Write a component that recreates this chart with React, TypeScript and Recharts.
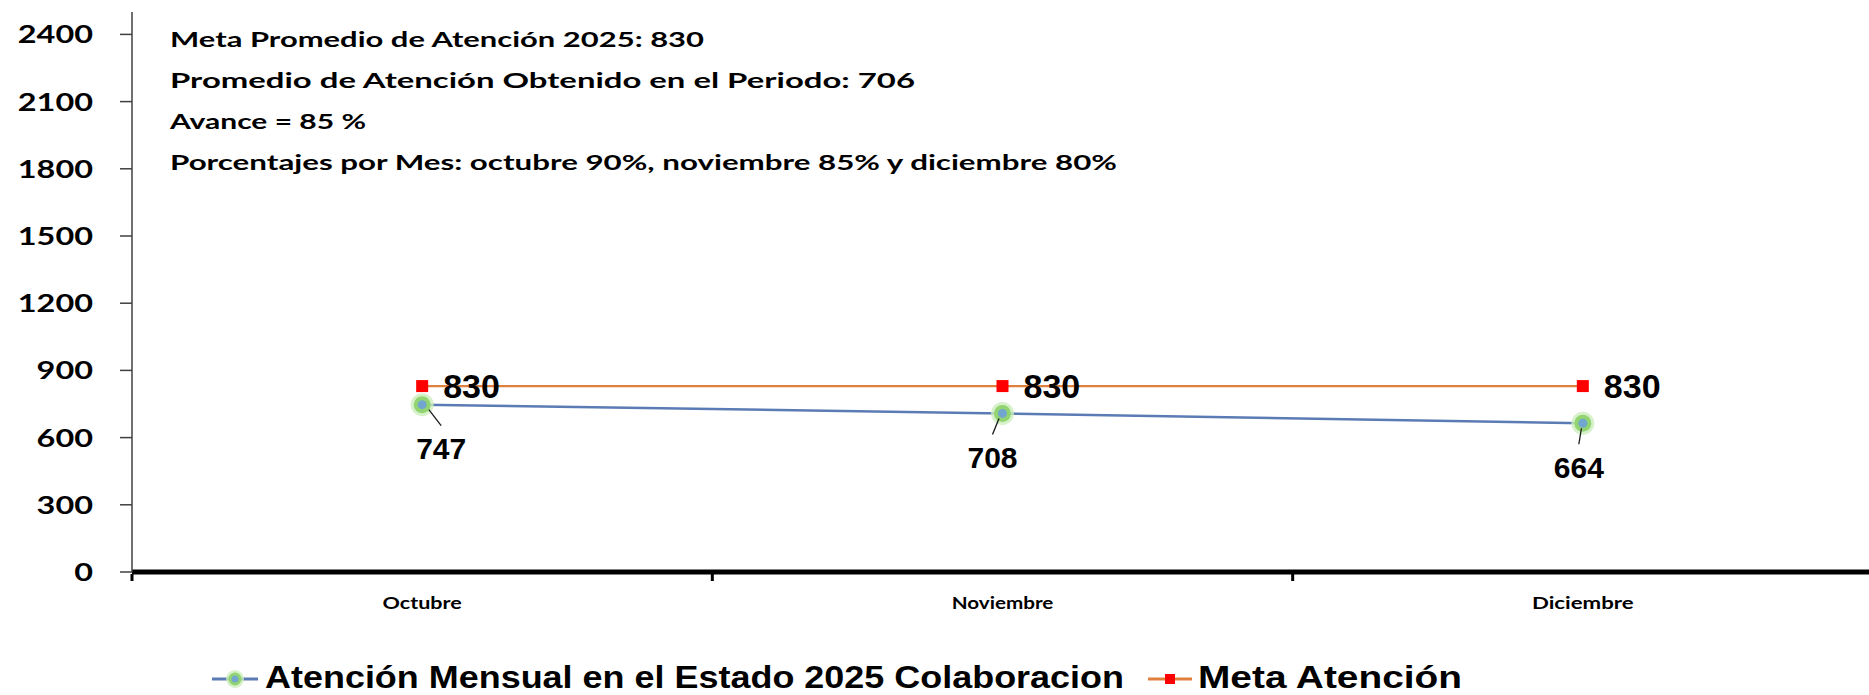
import React from 'react';
import { LineChart, Line, XAxis, YAxis, LabelList, Legend } from 'recharts';

// ---- data ----
const MESES = ['Octubre', 'Noviembre', 'Diciembre'];
const ATENCION = [747, 708, 664];
const META = [830, 830, 830];
const Y_TICKS = [0, 300, 600, 900, 1200, 1500, 1800, 2100, 2400];
const SERIE_ATENCION = 'Atención Mensual en el Estado 2025 Colaboracion';
const SERIE_META = 'Meta Atención';
const NOTAS = [
  'Meta Promedio de Atención 2025: 830',
  'Promedio de Atención Obtenido en el Periodo: 706',
  'Avance = 85 %',
  'Porcentajes por Mes: octubre 90%, noviembre 85% y diciembre 80%',
];

const data = MESES.map((mes, i) => ({ mes, atencion: ATENCION[i], meta: META[i] }));

// ---- styles ----
const BLUE = '#5B7BB5';
const ORANGE = '#E0803F';
const CAL = 'Lato, "Open Sans", sans-serif';
const ARI = '"Liberation Sans", Arial, sans-serif';
const NOTE_W = [534, 745, 196, 947];
const NOTE_BASE = [47, 88, 129, 170];
const ATN_DX = [19, -10, -4];

const YTick = (props: any) => {
  const { x, y, payload } = props;
  const s = String(payload.value);
  return (
    <text x={x} y={y} dy="0.36em" textAnchor="end" fontFamily={CAL} fontWeight={700} fontSize={25}
      fill="#000" textLength={s.length * 18.8} lengthAdjust="spacingAndGlyphs">{s}</text>
  );
};

const XTick = (props: any) => {
  const { x, y, payload } = props;
  const half = payload && typeof payload.offset === 'number' && payload.offset > 0 ? payload.offset : 290;
  const s = String(payload.value);
  return (
    <g>
      <line x1={x - half} x2={x - half} y1={y + 2} y2={y + 9} stroke="#000" strokeWidth={3} />
      <text x={x} y={y + 37} textAnchor="middle" fontFamily={CAL} fontWeight={700} fontSize={17}
        fill="#000" textLength={s.length * 11.3} lengthAdjust="spacingAndGlyphs">{s}</text>
    </g>
  );
};

const AtencionDot = (p: any) => {
  const { cx, cy, index } = p;
  return (
    <g key={`ad-${index}`}>
      <circle cx={cx} cy={cy} r={11.5} fill="#cdeebd" opacity={0.8} />
      <circle cx={cx} cy={cy} r={8.5} fill="#92d470" />
      <circle cx={cx} cy={cy} r={4.5} fill="#73a6cf" />
    </g>
  );
};

const MetaDot = (p: any) => {
  const { cx, cy, index } = p;
  return <rect key={`md-${index}`} x={cx - 6} y={cy - 6} width={12} height={12} fill="#FF0000" />;
};

const AtencionLabel = (props: any) => {
  const { x, y, value, index } = props;
  const dx = ATN_DX[index] ?? 0;
  const cx = x + dx;
  const cy = y + 44;
  return (
    <g>
      <line x1={x + dx * 0.35} y1={y + 5} x2={cx} y2={y + 21} stroke="#1a1a1a" strokeWidth={1.3} />
      <text x={cx} y={cy} dy="0.36em" textAnchor="middle" fontFamily={ARI} fontWeight={700}
        fontSize={30} fill="#000">{value}</text>
    </g>
  );
};

const MetaLabel = (props: any) => {
  const { x, y, value } = props;
  return (
    <text x={x + 21} y={y} dy="0.36em" textAnchor="start" fontFamily={ARI} fontWeight={700}
      fontSize={34} fill="#000">{value}</text>
  );
};

const LEG_POS = [
  { i0: 212, i1: 258, tx: 265, w: 859 },
  { i0: 1148, i1: 1192, tx: 1198, w: 264 },
];

const LegendContent = (props: any) => {
  const items = props.payload || [];
  return (
    <svg width={1869} height={45} style={{ display: 'block' }}>
      {items.map((it: any, i: number) => {
        const p = LEG_POS[i] || LEG_POS[0];
        const mid = (p.i0 + p.i1) / 2;
        const name = String(it.value);
        return (
          <g key={name}>
            <line x1={p.i0} x2={p.i1} y1={24} y2={24} stroke={it.color} strokeWidth={3} />
            {i === 0 ? (
              <g>
                <circle cx={mid} cy={24} r={9} fill="#cdeebd" opacity={0.8} />
                <circle cx={mid} cy={24} r={6.5} fill="#92d470" />
                <circle cx={mid} cy={24} r={3.5} fill="#73a6cf" />
              </g>
            ) : (
              <rect x={mid - 5} y={19} width={10} height={10} fill="#FF0000" />
            )}
            <text x={p.tx} y={33} fontFamily={ARI} fontWeight={700} fontSize={32} fill="#000"
              textLength={p.w} lengthAdjust="spacingAndGlyphs">{name}</text>
          </g>
        );
      })}
    </svg>
  );
};

export default function App() {
  return (
    <div style={{ position: 'absolute', left: 0, top: 0, width: 1869, height: 695, overflow: 'hidden', background: '#fff' }}>
      <LineChart width={1873} height={695} data={data} margin={{ top: 12, right: 0, bottom: 83, left: 0 }}>
        <XAxis dataKey="mes" scale="band" height={40} axisLine={{ stroke: '#000', strokeWidth: 5 }} tickLine={false}
          tickSize={0} tickMargin={0} tick={<XTick />} interval={0} />
        <YAxis type="number" width={132} domain={[0, 2500]} ticks={Y_TICKS} allowDataOverflow interval={0}
          axisLine={{ stroke: '#404040', strokeWidth: 1.5 }} tickLine={{ stroke: '#404040', strokeWidth: 1.5 }}
          tickSize={12} tickMargin={27} tick={<YTick />} />
        <Line type="linear" dataKey="atencion" name={SERIE_ATENCION} stroke={BLUE} strokeWidth={2.5}
          dot={AtencionDot} activeDot={false} isAnimationActive={false}>
          <LabelList dataKey="atencion" content={<AtencionLabel />} />
        </Line>
        <Line type="linear" dataKey="meta" name={SERIE_META} stroke={ORANGE} strokeWidth={2.2}
          dot={MetaDot} activeDot={false} isAnimationActive={false}>
          <LabelList dataKey="meta" content={<MetaLabel />} />
        </Line>
        <Legend layout="horizontal" verticalAlign="middle" align="center" content={<LegendContent />}
          wrapperStyle={{ position: 'absolute', left: 0, top: 655, width: 1869, height: 45 }} />
      </LineChart>
      <svg width={1869} height={200} style={{ position: 'absolute', left: 0, top: 0, pointerEvents: 'none' }}>
        {NOTAS.map((t, i) => (
          <text key={i} x={170} y={NOTE_BASE[i]} fontFamily={CAL} fontWeight={700} fontSize={21} fill="#000"
            textLength={NOTE_W[i]} lengthAdjust="spacingAndGlyphs">{t}</text>
        ))}
      </svg>
    </div>
  );
}
